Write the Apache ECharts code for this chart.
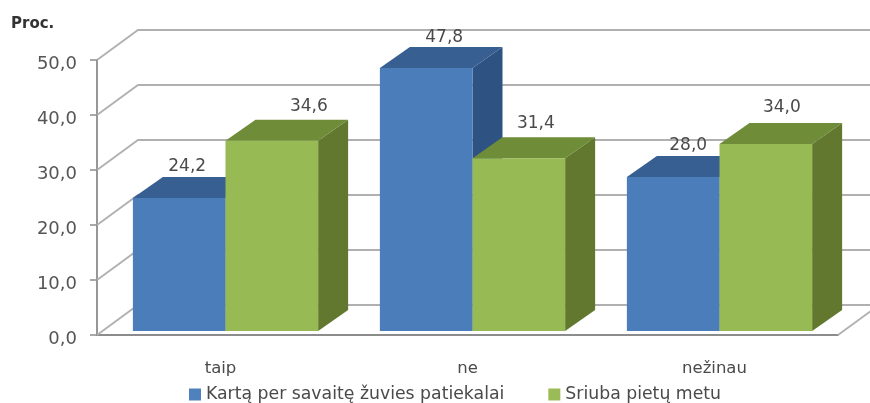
<!DOCTYPE html>
<html><head><meta charset="utf-8">
<style>html,body{margin:0;padding:0;background:#fff}#c{width:870px;height:403px;filter:blur(0.45px)}</style>
<script src="https://cdn.jsdelivr.net/npm/echarts@6/dist/echarts.min.js"></script>
</head><body><div id="c"></div>
<script>
const categories = ['taip', 'ne', 'nežinau'];
const seriesNames = ['Kartą per savaitę žuvies patiekalai', 'Sriuba pietų metu'];
const weeklyFish = [24.2, 47.8, 28.0];
const lunchSoup = [34.6, 31.4, 34.0];
const yTicks = [0, 10, 20, 30, 40, 50];

const FONT = 'DejaVu Sans';
const WALL = {dx: 41, dy: -30};
const BAR = {inset: 5, lift: 4, dx: 30, dy: -21, widthRatio: 0.375};
const labelNudgeX = [[8, 18, 15], [37, 17, 16]];
const labelNudgeY = [[-32, -32, -32], [-35, -36, -37]];

function fmt(v) { return v.toFixed(1).replace('.', ','); }

function wallItem(params, api) {
  const cs = params.coordSys;
  const y = api.coord([0, api.value(1)])[1];
  const x0 = cs.x, x1 = cs.x + cs.width;
  const children = [{
    type: 'polyline',
    shape: {points: [[x0, y], [x0 + WALL.dx, y + WALL.dy], [x1 + WALL.dx, y + WALL.dy]]},
    style: {fill: null, stroke: '#b0b0b0', lineWidth: 1.8}
  }];
  if (api.value(1) === yTicks[0]) {
    children.push({
      type: 'line',
      shape: {x1: x1, y1: y, x2: x1 + WALL.dx, y2: y + WALL.dy},
      style: {stroke: '#b0b0b0', lineWidth: 1.8}
    });
  }
  return {type: 'group', children};
}

function barRenderer(sIdx, colors) {
  return function (params, api) {
    const i = api.value(0), v = api.value(1);
    const band = api.size([1, 0])[0];
    const w = band * BAR.widthRatio;
    const c = api.coord([i, v]), b = api.coord([i, 0]);
    const L = c[0] + BAR.inset + (sIdx === 0 ? -w : 0), R = L + w;
    const T = c[1] - BAR.lift, B = b[1] - BAR.lift;
    const d = BAR;
    return {type: 'group', children: [
      {type: 'polygon', shape: {points: [[R, T], [R + d.dx, T + d.dy], [R + d.dx, B + d.dy], [R, B]]}, style: {fill: colors.side}},
      {type: 'polygon', shape: {points: [[L, T], [L + d.dx, T + d.dy], [R + d.dx, T + d.dy], [R, T]]}, style: {fill: colors.top}},
      {type: 'rect', shape: {x: L, y: T, width: w, height: B - T}, style: {fill: colors.front}},
      {type: 'text', x: (L + R) / 2 + labelNudgeX[sIdx][i], y: T + 1 + labelNudgeY[sIdx][i],
        style: {text: fmt(v), fill: '#4a4a4a', font: '17px "' + FONT + '"', textAlign: 'center', textVerticalAlign: 'middle'}}
    ]};
  };
}

const chart = echarts.init(document.getElementById('c'), null, {renderer: 'canvas'});
chart.setOption({
  animation: false,
  backgroundColor: '#fff',
  title: {text: 'Proc.', left: 11, top: 17, padding: 0, textStyle: {fontFamily: FONT, fontSize: 15, fontWeight: 'bold', color: '#333'}},
  grid: {left: 97, right: 32, top: 60, height: 275, containLabel: false},
  legend: {
    data: seriesNames.map(n => ({name: n, icon: 'rect'})), left: 189, top: 386, itemWidth: 12, itemHeight: 12, itemGap: 44,
    textStyle: {fontFamily: FONT, fontSize: 17.3, color: '#4a4a4a'}, padding: 0
  },
  xAxis: {
    type: 'category', data: categories,
    axisLine: {lineStyle: {color: '#8c8c8c', width: 1.8}}, axisTick: {show: false},
    axisLabel: {margin: 25, fontFamily: FONT, fontSize: 16.5, color: '#4a4a4a'}
  },
  yAxis: {
    type: 'value', min: 0, max: 50, interval: 10,
    axisLine: {show: true, lineStyle: {color: '#8c8c8c', width: 1.8}},
    axisTick: {show: true, length: 7, lineStyle: {color: '#8c8c8c', width: 1.5}},
    splitLine: {show: false},
    axisLabel: {margin: 20, fontFamily: FONT, fontSize: 18, color: '#555', formatter: fmt, verticalAlign: 'top', lineHeight: 9}
  },
  series: [
    {type: 'custom', name: 'wall', z: 1, silent: true, renderItem: wallItem, data: yTicks.map(v => [0, v])},
    {type: 'custom', name: seriesNames[0], z: 3, itemStyle: {color: '#4F81BD'},
      renderItem: barRenderer(0, {front: '#4B7DBB', top: '#375F92', side: '#2E5282'}),
      data: weeklyFish.map((v, i) => [i, v])},
    {type: 'custom', name: seriesNames[1], z: 4, itemStyle: {color: '#9BBB59'},
      renderItem: barRenderer(1, {front: '#97BA55', top: '#6F8C38', side: '#62782F'}),
      data: lunchSoup.map((v, i) => [i, v])}
  ]
});
</script></body></html>
